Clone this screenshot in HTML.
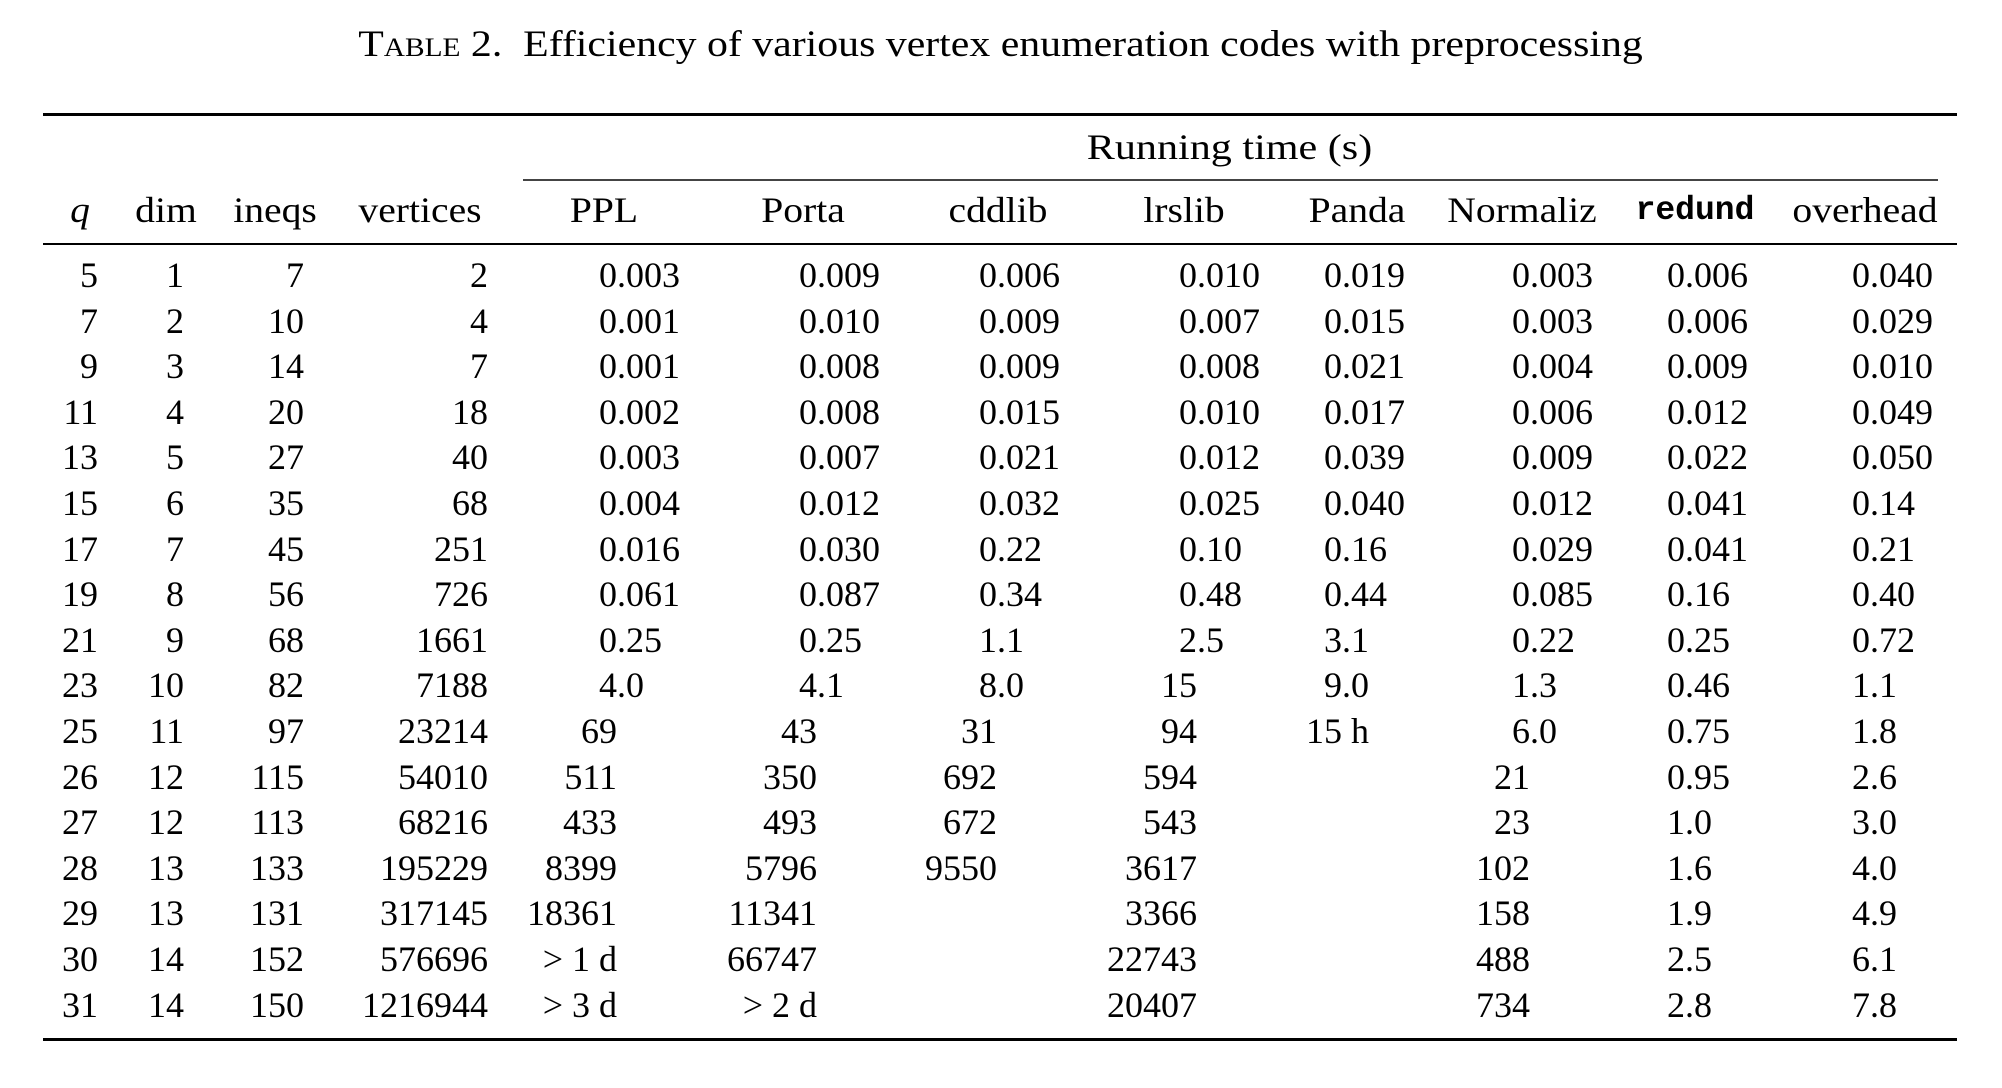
<!DOCTYPE html>
<html><head><meta charset="utf-8"><style>
html,body{margin:0;padding:0;background:#fff;}
body{width:2002px;height:1088px;position:relative;overflow:hidden;font-family:"Liberation Serif","DejaVu Serif",serif;color:#000;}
.a{position:absolute;white-space:nowrap;}
.col{position:absolute;top:253px;font-size:36px;line-height:45.6px;white-space:pre;}
.r{text-align:right;}
.l{text-align:left;}
.h{position:absolute;top:188px;font-size:36px;line-height:45.6px;width:300px;text-align:center;white-space:nowrap;transform:scaleX(1.1);transform-origin:center;}
.rule{position:absolute;background:#000;}
</style></head><body>
<div class="a" style="left:360px;top:22px;font-size:37px;line-height:45px;width:1281px;text-align:center;transform:scaleX(1.13);transform-origin:center;"><span style="font-variant:small-caps;">Table</span> 2.&nbsp; Efficiency of various vertex enumeration codes with preprocessing</div>

<div class="rule" style="left:43px;top:113px;width:1914px;height:3px;"></div>
<div class="a" style="left:1087px;top:125px;font-size:36px;line-height:45.6px;width:285px;text-align:center;transform:scaleX(1.17);transform-origin:center;">Running time (s)</div>
<div class="rule" style="left:523px;top:179px;width:1415px;height:2px;background:#444;"></div>

<div class="h" style="left:-70px;"><i>q</i></div>
<div class="h" style="left:16px;">dim</div>
<div class="h" style="left:125px;">ineqs</div>
<div class="h" style="left:270px;">vertices</div>
<div class="h" style="left:454px;">PPL</div>
<div class="h" style="left:653px;">Porta</div>
<div class="h" style="left:848px;">cddlib</div>
<div class="h" style="left:1034px;">lrslib</div>
<div class="h" style="left:1207px;">Panda</div>
<div class="h" style="left:1372px;">Normaliz</div>
<div class="h" style="left:1545px;font-family:'Liberation Mono',monospace;font-weight:bold;font-size:33px;transform:none;">redund</div>
<div class="h" style="left:1715px;">overhead</div>

<div class="rule" style="left:43px;top:243px;width:1914px;height:2px;"></div>

<div class="col r" style="left:0;width:98px;">5
7
9
11
13
15
17
19
21
23
25
26
27
28
29
30
31</div>
<div class="col r" style="left:100px;width:84px;">1
2
3
4
5
6
7
8
9
10
11
12
12
13
13
14
14</div>
<div class="col r" style="left:200px;width:104px;">7
10
14
20
27
35
45
56
68
82
97
115
113
133
131
152
150</div>
<div class="col r" style="left:300px;width:188px;">2
4
7
18
40
68
251
726
1661
7188
23214
54010
68216
195229
317145
576696
1216944</div>

<div class="col r" style="left:417px;width:200px;">0
0
0
0
0
0
0
0
0
4
69
511
433
8399
18361
&gt; 1 d
&gt; 3 d</div>
<div class="col l" style="left:617px;">.003
.001
.001
.002
.003
.004
.016
.061
.25
.0</div>
<div class="col r" style="left:617px;width:200px;">0
0
0
0
0
0
0
0
0
4
43
350
493
5796
11341
66747
&gt; 2 d</div>
<div class="col l" style="left:817px;">.009
.010
.008
.008
.007
.012
.030
.087
.25
.1</div>
<div class="col r" style="left:797px;width:200px;">0
0
0
0
0
0
0
0
1
8
31
692
672
9550</div>
<div class="col l" style="left:997px;">.006
.009
.009
.015
.021
.032
.22
.34
.1
.0</div>
<div class="col r" style="left:997px;width:200px;">0
0
0
0
0
0
0
0
2
15
94
594
543
3617
3366
22743
20407</div>
<div class="col l" style="left:1197px;">.010
.007
.008
.010
.012
.025
.10
.48
.5</div>
<div class="col r" style="left:1142px;width:200px;">0
0
0
0
0
0
0
0
3
9
15</div>
<div class="col l" style="left:1342px;">.019
.015
.021
.017
.039
.040
.16
.44
.1
.0
 h</div>
<div class="col r" style="left:1330px;width:200px;">0
0
0
0
0
0
0
0
0
1
6
21
23
102
158
488
734</div>
<div class="col l" style="left:1530px;">.003
.003
.004
.006
.009
.012
.029
.085
.22
.3
.0</div>
<div class="col r" style="left:1485px;width:200px;">0
0
0
0
0
0
0
0
0
0
0
0
1
1
1
2
2</div>
<div class="col l" style="left:1685px;">.006
.006
.009
.012
.022
.041
.041
.16
.25
.46
.75
.95
.0
.6
.9
.5
.8</div>
<div class="col r" style="left:1670px;width:200px;">0
0
0
0
0
0
0
0
0
1
1
2
3
4
4
6
7</div>
<div class="col l" style="left:1870px;">.040
.029
.010
.049
.050
.14
.21
.40
.72
.1
.8
.6
.0
.0
.9
.1
.8</div>

<div class="rule" style="left:43px;top:1038px;width:1914px;height:3px;"></div>
</body></html>
